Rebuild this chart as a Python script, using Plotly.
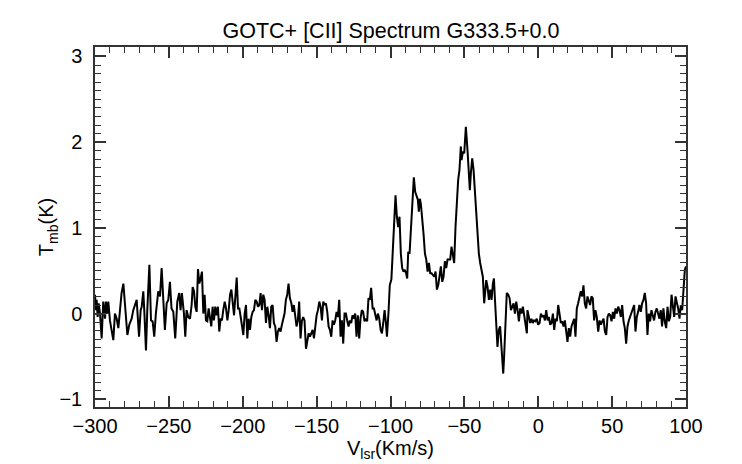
import plotly.graph_objects as go

# GOT C+ [CII] spectrum towards G333.5+0.0
# baseline, -300 .. -167 km/s
vel_a = [-300.0, -299.3, -298.9, -298.2, -297.5, -296.6, -295.5, -294.4, -293.2, -292.6,
         -291.7, -291.0, -289.9, -288.7, -287.6, -286.5, -285.3, -284.2, -283.1, -282.0,
         -280.8, -279.7, -278.1, -276.8, -275.2, -274.1, -272.9, -271.8, -270.2, -269.1,
         -268.4, -267.3, -266.6, -265.5, -264.6, -263.2, -262.1, -261.0, -259.9, -258.8,
         -257.2, -256.0, -254.9, -253.8, -252.7, -251.5, -250.4, -249.3, -248.2, -247.0,
         -245.7, -244.3, -243.0, -242.1, -241.2, -239.8, -238.9, -238.0, -236.9, -235.7,
         -234.6, -233.9, -233.0, -232.1, -231.2, -230.3, -229.4, -228.5, -227.6, -226.7,
         -225.8, -224.9, -224.0, -223.1, -222.2, -221.3, -220.4, -219.5, -218.6, -217.7,
         -216.8, -215.9, -215.0, -214.1, -213.2, -212.2, -211.3, -210.4, -209.5, -208.6,
         -207.7, -206.8, -205.9, -205.0, -204.1, -203.2, -202.3, -201.4, -200.5, -199.6,
         -198.7, -197.8, -196.9, -196.0, -195.1, -194.2, -193.3, -192.4, -191.5, -190.6,
         -189.7, -188.8, -187.9, -187.0, -186.1, -185.2, -184.3, -183.4, -182.5, -181.6,
         -180.7, -179.8, -178.9, -178.0, -177.1, -176.2, -175.3, -174.4, -173.5, -172.6,
         -171.7, -170.8, -169.9, -169.0, -168.1, -167.1]
tmb_a = [0.22, 0.04, 0.16, -0.04, 0.12, 0.00, -0.29, 0.14, -0.06, 0.14,
         0.00, 0.14, -0.08, -0.19, -0.31, 0.00, -0.06, -0.17, 0.08, 0.24,
         0.35, 0.12, -0.25, -0.13, -0.06, 0.04, 0.12, 0.16, -0.27, 0.04,
         0.08, 0.26, 0.02, -0.43, 0.04, 0.57, -0.08, -0.09, -0.27, 0.00,
         0.26, 0.20, 0.53, 0.14, -0.19, 0.12, 0.16, 0.37, 0.06, 0.02,
         -0.29, 0.14, 0.24, 0.04, 0.24, 0.00, -0.27, 0.04, -0.04, -0.06,
         0.10, 0.31, 0.26, 0.08, 0.02, 0.52, 0.35, 0.41, 0.49, 0.00,
         0.22, -0.08, -0.09, 0.06, -0.06, -0.15, 0.08, -0.08, 0.08, -0.02,
         0.08, -0.21, -0.06, -0.08, 0.04, 0.14, 0.06, -0.08, 0.04, 0.22,
         0.28, 0.14, -0.02, 0.20, 0.42, 0.06, 0.06, -0.04, -0.15, -0.25,
         0.00, 0.10, -0.29, -0.06, -0.19, -0.04, 0.02, 0.04, 0.16, 0.14,
         0.08, 0.10, 0.24, 0.04, 0.22, 0.16, -0.11, 0.08, -0.02, -0.17,
         0.08, 0.10, -0.11, -0.15, -0.33, -0.21, -0.17, -0.21, -0.13, -0.04,
         0.00, 0.16, 0.22, 0.35, 0.18, 0.12]

# baseline, -166 .. -104 km/s
vel_b = [-166.3, -165.4, -164.5, -163.6, -162.7, -161.8, -160.9, -160.0, -159.1, -158.2,
         -157.2, -156.3, -155.4, -154.5, -153.6, -152.7, -151.8, -150.9, -150.0, -149.1,
         -148.2, -147.3, -146.4, -145.5, -144.6, -143.7, -142.8, -141.9, -141.0, -140.1,
         -139.2, -138.3, -137.4, -136.5, -135.6, -134.7, -133.8, -132.9, -132.0, -131.1,
         -130.2, -129.3, -128.4, -127.5, -126.6, -125.7, -124.8, -123.9, -123.0, -122.1,
         -121.2, -120.3, -119.4, -118.5, -117.6, -116.7, -115.8, -114.9, -114.0, -113.1,
         -112.1, -111.2, -110.3, -109.4, -108.5, -107.6, -106.7, -105.8, -104.9, -104.0,
         -103.1]
tmb_b = [0.02, 0.10, -0.04, -0.15, -0.08, 0.14, -0.29, -0.09, -0.04, -0.08,
         -0.41, -0.31, -0.23, -0.27, -0.23, -0.19, -0.29, -0.15, -0.02, 0.04,
         0.14, 0.08, -0.08, 0.14, 0.10, 0.12, 0.02, -0.15, -0.19, -0.27,
         -0.08, -0.13, -0.08, 0.02, -0.04, 0.16, -0.27, -0.08, -0.35, 0.00,
         0.00, -0.08, -0.15, -0.08, -0.11, -0.02, -0.06, 0.00, -0.27, -0.02,
         -0.29, -0.06, 0.04, 0.02, -0.09, -0.06, -0.09, 0.18, 0.16, 0.30,
         0.06, 0.06, 0.00, -0.08, 0.00, -0.06, -0.19, -0.23, -0.11, 0.04,
         -0.11]

# emission and absorption, -102 .. -22 km/s
vel_c = [-102.4, -101.3, -100.5, -99.4, -98.4, -97.6, -96.6, -95.7, -94.8, -93.9,
         -93.0, -92.1, -91.2, -90.3, -89.4, -88.7, -88.0, -87.1, -86.2, -85.3,
         -84.2, -83.3, -82.4, -81.5, -80.8, -80.1, -79.4, -78.5, -77.6, -76.7,
         -75.8, -74.9, -74.0, -73.1, -72.2, -71.3, -70.4, -69.5, -68.6, -67.7,
         -66.8, -65.9, -65.0, -64.1, -63.2, -62.3, -61.4, -60.5, -59.6, -58.7,
         -57.8, -56.9, -56.0, -55.1, -54.2, -53.3, -52.4, -51.9, -51.0, -50.1,
         -49.0, -47.9, -47.0, -46.3, -45.6, -44.7, -43.8, -42.9, -42.0, -41.1,
         -40.2, -39.3, -38.4, -37.5, -36.6, -35.2, -34.3, -33.4, -32.5, -31.6,
         -30.7, -30.0, -29.4, -28.5, -27.6, -26.7, -25.8, -24.9, -23.7, -23.1,
         -22.2]
tmb_c = [-0.27, 0.03, 0.33, 0.40, 0.80, 1.00, 1.38, 1.13, 1.01, 1.13,
         0.70, 0.53, 0.49, 0.51, 0.47, 0.41, 0.72, 0.70, 1.01, 1.33,
         1.59, 1.42, 1.36, 1.33, 1.19, 1.34, 1.27, 1.13, 0.92, 0.70,
         0.63, 0.49, 0.59, 0.47, 0.47, 0.45, 0.43, 0.49, 0.28, 0.33,
         0.43, 0.55, 0.37, 0.43, 0.61, 0.53, 0.63, 0.63, 0.63, 0.78,
         0.65, 0.59, 1.01, 1.33, 1.56, 1.68, 1.95, 1.79, 1.89, 1.87,
         2.18, 1.91, 1.68, 1.44, 1.64, 1.81, 1.68, 1.44, 1.13, 0.90,
         0.70, 0.59, 0.51, 0.43, 0.12, 0.39, 0.31, 0.16, 0.28, 0.16,
         0.35, 0.41, 0.20, -0.15, -0.39, -0.19, -0.15, -0.39, -0.70, -0.50,
         -0.04]

# baseline, -21 .. 100 km/s
vel_d = [-21.3, -20.3, -19.4, -18.5, -17.6, -16.7, -15.8, -14.9, -14.0, -13.1,
         -12.2, -11.3, -10.4, -9.5, -8.6, -7.7, -7.3, -6.4, -5.5, -4.6,
         -3.7, -2.8, -1.9, -1.0, -0.1, 0.9, 1.8, 2.7, 3.6, 4.5,
         5.4, 6.3, 7.2, 8.1, 9.0, 9.9, 10.8, 11.7, 12.6, 13.5,
         14.4, 15.3, 16.2, 17.1, 18.0, 18.9, 19.8, 20.7, 21.6, 22.5,
         23.4, 24.3, 25.2, 26.1, 27.0, 27.9, 28.8, 29.7, 30.6, 31.5,
         32.4, 33.3, 34.2, 35.1, 36.0, 36.9, 37.8, 38.7, 39.6, 40.6,
         41.5, 42.4, 43.3, 44.2, 45.1, 46.0, 46.9, 47.8, 48.7, 49.6,
         50.5, 51.4, 52.3, 53.2, 54.1, 55.0, 55.9, 56.8, 57.7, 58.6,
         59.5, 60.4, 61.3, 62.2, 63.1, 64.0, 64.9, 65.8, 66.7, 67.6,
         68.5, 69.4, 70.3, 71.2, 72.1, 73.0, 73.9, 74.8, 75.7, 76.6,
         77.5, 78.4, 79.3, 80.2, 81.1, 82.0, 82.9, 83.8, 84.7, 85.6,
         86.6, 87.5, 88.4, 89.3, 90.2, 91.1, 92.0, 92.9, 93.8, 94.7,
         95.6, 96.5, 97.4, 98.3, 99.2, 100.0]
tmb_d = [0.24, 0.22, 0.18, 0.04, 0.08, 0.12, 0.00, 0.14, 0.04, -0.09,
         0.06, 0.00, 0.08, -0.04, -0.11, -0.23, 0.04, -0.02, -0.11, -0.06,
         -0.11, -0.08, -0.09, -0.06, -0.13, -0.11, 0.00, -0.04, -0.02, -0.08,
         0.04, -0.08, -0.04, -0.13, -0.11, 0.00, -0.19, -0.06, -0.09, 0.10,
         -0.04, -0.11, -0.09, -0.15, -0.08, -0.23, -0.33, -0.17, -0.27, -0.15,
         -0.09, -0.06, -0.27, 0.06, 0.12, 0.20, 0.26, 0.20, 0.33, 0.12,
         0.06, 0.20, 0.16, 0.10, 0.20, 0.18, -0.08, 0.04, -0.04, -0.21,
         -0.08, -0.13, -0.09, -0.06, -0.21, -0.25, -0.04, 0.00, -0.02, -0.09,
         0.02, -0.06, 0.06, 0.00, 0.08, 0.04, -0.04, 0.10, -0.09, -0.17,
         -0.35, -0.15, -0.08, -0.04, 0.02, 0.06, 0.10, -0.21, -0.04, 0.02,
         0.10, 0.02, 0.12, 0.16, 0.24, 0.12, -0.25, 0.00, -0.09, 0.04,
         -0.04, -0.08, 0.02, 0.06, 0.00, -0.06, 0.04, -0.15, 0.06, -0.09,
         -0.17, 0.08, -0.09, -0.04, 0.22, 0.10, -0.04, 0.20, 0.14, 0.06,
         -0.06, 0.10, 0.04, 0.35, 0.51, 0.55]

velocity = vel_a + vel_b + vel_c + vel_d
tmb = tmb_a + tmb_b + tmb_c + tmb_d

FONT = "Liberation Sans, Arial, Helvetica, sans-serif"
AXC = "#333333"

# the page body adds an 8px margin, so the figure is a bit smaller than the window
W, H = 734, 456

fig = go.Figure()
fig.add_trace(go.Scatter(x=velocity, y=tmb, mode="lines",
                         line=dict(color="black", width=2),
                         showlegend=False, hoverinfo="skip"))

axis_common = dict(
    showline=True, linecolor=AXC, linewidth=1.5, mirror="allticks",
    ticks="inside", ticklen=11, tickwidth=1.5, tickcolor=AXC,
    showgrid=False, zeroline=False, automargin=False,
    tickfont=dict(family=FONT, size=20, color="black"),
)

fig.update_xaxes(range=[-300, 100], tick0=-300, dtick=50,
                 minor=dict(ticks="inside", ticklen=6, dtick=10, tickcolor=AXC, tickwidth=1.2),
                 title=dict(text="V<sub>lsr</sub>(Km/s)", font=dict(family=FONT, size=20, color="black"),
                            standoff=2),
                 **axis_common)
fig.update_yaxes(range=[-1.09, 3.11], tick0=0, dtick=1, ticklabelstandoff=7,
                 minor=dict(ticks="inside", ticklen=6, dtick=0.1, tickcolor=AXC, tickwidth=1.2),
                 title=dict(text="T<sub>mb</sub>(K)", font=dict(family=FONT, size=20, color="black"),
                            standoff=0),
                 **axis_common)

fig.update_layout(
    width=W, height=H,
    margin=dict(l=87, r=56, t=39, b=57),
    paper_bgcolor="white", plot_bgcolor="white",
    title=dict(text="GOTC+ [CII] Spectrum G333.5+0.0",
               font=dict(family=FONT, size=21.5, color="black"),
               x=383 / W, xanchor="center", y=1 - 22.5 / H, yanchor="middle"),
)

fig.write_html("out.html")
